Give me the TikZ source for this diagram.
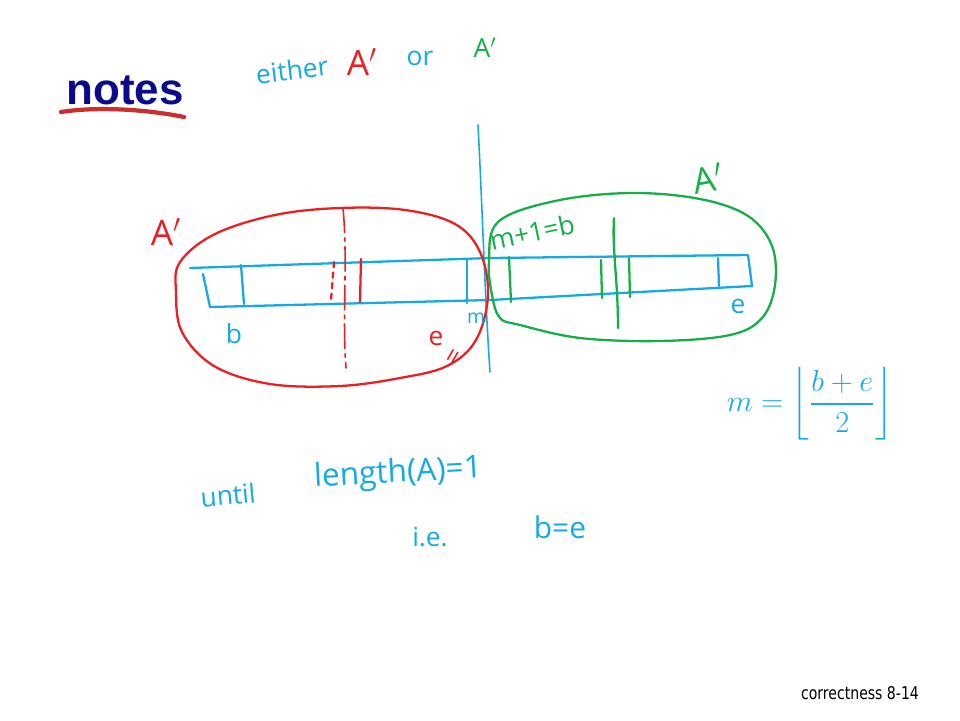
\documentclass[tikz,border=0pt]{standalone}
\usepackage{amsmath}
\usepackage{fontspec}
\setmainfont{Open Sans}
\newfontfamily\titlefont{Liberation Sans}
\newfontfamily\footfont{DejaVu Sans}
\usepackage{xcolor}
\definecolor{InkBlue}{RGB}{20,170,230}
\definecolor{InkRed}{RGB}{235,30,35}
\definecolor{InkGreen}{RGB}{20,175,70}
\definecolor{TitleNavy}{RGB}{10,10,140}
\definecolor{TitleRed}{RGB}{205,45,45}
\usepackage{tikz}
\usetikzlibrary{positioning, calc}
\tikzset{
  % pen strokes
  pen/.style={line width=1.3pt, line cap=round, line join=round},
  pen blue/.style={pen, InkBlue},
  pen red/.style={pen, InkRed},
  pen green/.style={pen, InkGreen},
  % handwritten labels
  hand/.style={inner sep=0pt, font=\fontsize{15}{18}\selectfont},
  hand blue/.style={hand, text=InkBlue},
  hand red/.style={hand, text=InkRed},
  hand green/.style={hand, text=InkGreen},
}

\begin{document}
\begin{tikzpicture}[x=0.02cm, y=-0.02cm]

  \useasboundingbox (0,0) rectangle (960,720);

  %% title
  \node[text=TitleNavy, font=\titlefont\bfseries\fontsize{25}{30}\selectfont, inner sep=0pt]
    (title) at (125,90) {notes};
  \draw[TitleRed, line width=2.4pt, line cap=round]
    (61,112) .. controls (100,106) and (150,110) .. (184,117);

  %% either A' or A'
  \node[hand blue, rotate=7] (either) at (292,70) {either};
  \node[hand red, font=\fontsize{20}{22}\selectfont] (redA) at (362,62) {A$'$};
  \node[hand blue] (or) at (420,58) {or};
  \node[hand green] (greenA) at (485,48) {A$'$};

  %% split line
  \draw[pen blue, line width=0.9pt] (478,125) .. controls (482,200) and (485,300) .. (490,372);

  %% array
  \draw[pen blue] (190,268) -- (490,258) -- (748,255) -- (752,286) -- (490,300) -- (210,307) -- (203,274);
  \draw[pen blue] (241,265) -- (244,304);
  \draw[pen blue] (467,259) -- (467,303);
  \draw[pen blue] (718,258) -- (719,286);

  %% left half A'
  \draw[pen red] plot[smooth cycle, tension=0.6] coordinates {
    (180,262) (215,234) (275,215) (340,208) (405,210) (455,224) (480,252)
    (488,295) (476,340) (447,366) (400,378) (340,386) (270,384) (214,366)
    (182,332) (176,292)};
  \draw[pen red, line width=0.9pt, dash pattern=on 14pt off 3pt on 2pt off 3pt]
    (343,208) .. controls (348,260) and (342,320) .. (346,368);
  \draw[pen red, dashed] (334,262) -- (331,300);
  \draw[pen red] (361,259) -- (360,302);
  \node[hand red, font=\fontsize{20}{22}\selectfont] (leftA) at (166,232) {A$'$};
  \node[hand blue] (bLabel) at (234,334) {b};
  \node[hand red] (eLabel) at (436,338) {e};
  \node[hand red, rotate=60] (eqLabel) at (456,358) {=};
  \node[hand blue, font=\fontsize{11}{12}\selectfont] (mLabel) at (476,318) {m};

  %% right half A'
  \draw[pen green] plot[smooth cycle, tension=0.6] coordinates {
    (489,262) (498,222) (555,201) (630,193) (700,199) (748,216) (772,246)
    (775,285) (762,318) (730,335) (660,341) (580,338) (520,325) (500,318)
    (492,295)};
  \draw[pen green] (509,257) -- (511,302);
  \draw[pen green] (601,260) -- (602,298);
  \draw[pen green] (629,258) -- (630,297);
  \draw[pen green] (614,218) .. controls (612,250) and (618,280) .. (618,328);
  \node[hand green, rotate=12] (mPlus) at (532,232) {m+1=b};
  \node[hand green, font=\fontsize{20}{22}\selectfont, rotate=10] (rightA) at (708,178) {A$'$};
  \node[hand blue] (eRight) at (738,306) {e};

  %% midpoint
  \node[hand blue, font=\fontsize{17}{20}\selectfont] (midpoint) at (810,404)
    {$m=\left\lfloor\dfrac{b+e}{2}\right\rfloor$};

  %% stopping rule
  \node[hand blue, rotate=5] (until) at (228,495) {until};
  \node[hand blue, font=\fontsize{18}{22}\selectfont, rotate=3] (length) at (398,474) {length(A)=1};
  \node[hand blue] (ie) at (430,537) {i.e.};
  \node[hand blue, font=\fontsize{17}{20}\selectfont] (bEqE) at (560,527) {b=e};

  %% footer
  \node[font=\footfont\fontsize{10}{12}\selectfont, inner sep=0pt, xscale=0.8, transform shape]
    (footer) at (860,693) {correctness 8-14};

\end{tikzpicture}
\end{document}
